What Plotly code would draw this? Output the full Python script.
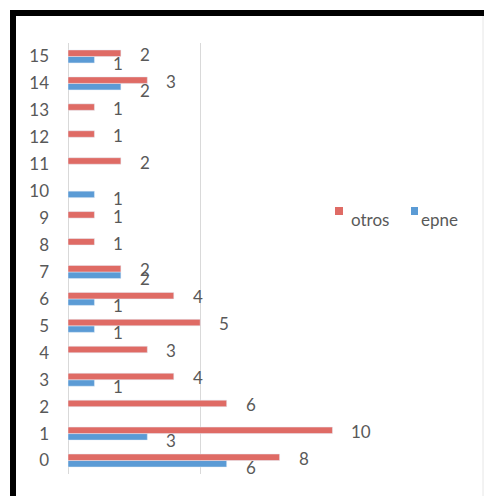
import plotly.graph_objects as go

categories = list(range(16))
cat_labels = [str(c) for c in categories]
otros = [8, 10, 6, 4, 3, 5, 4, 2, 1, 1, None, 2, 1, 1, 3, 2]
epne = [6, 3, None, 1, None, 1, 1, 2, None, None, 1, None, None, None, 2, 1]

RED = "#DF6B65"
BLUE = "#5B9BD5"
TXT = "#595959"
FONT = "Lato"
FS = 17

W, H = 484, 496
L, T = 68, 43
PW, PH = 265, 431
R = W - L - PW
B = H - T - PH

def xp(px):
    return (px - L) / PW

def yp(py):
    return (T + PH - py) / PH

fig = go.Figure()
fig.add_trace(go.Bar(y=categories, x=epne, orientation="h", name="epne",
                     marker_color=BLUE, showlegend=False))
fig.add_trace(go.Bar(y=categories, x=otros, orientation="h", name="otros",
                     marker_color=RED, showlegend=False))

ann = []
for c, v in zip(categories, otros):
    if v is not None:
        ann.append(dict(x=v, y=c, text=str(v), xref="x", yref="y", showarrow=False,
                        xanchor="left", yanchor="middle", xshift=17, yshift=2,
                        font=dict(family=FONT, size=FS, color=TXT)))
for c, v in zip(categories, epne):
    if v is not None:
        ann.append(dict(x=v, y=c, text=str(v), xref="x", yref="y", showarrow=False,
                        xanchor="left", yanchor="middle", xshift=17, yshift=-7,
                        font=dict(family=FONT, size=FS, color=TXT)))

# legend (manual)
ann.append(dict(x=xp(349), y=yp(219), xref="paper", yref="paper", text="otros",
                showarrow=False, xanchor="left", yanchor="middle",
                font=dict(family=FONT, size=FS, color=TXT)))
ann.append(dict(x=xp(419), y=yp(219), xref="paper", yref="paper", text="epne",
                showarrow=False, xanchor="left", yanchor="middle",
                font=dict(family=FONT, size=FS, color=TXT)))

shapes = [
    dict(type="rect", xref="paper", yref="paper", x0=xp(335), x1=xp(343), y0=yp(215), y1=yp(207),
         fillcolor=RED, line=dict(width=0)),
    dict(type="rect", xref="paper", yref="paper", x0=xp(411), x1=xp(418), y0=yp(215), y1=yp(207),
         fillcolor=BLUE, line=dict(width=0)),
    # black frame
    dict(type="rect", xref="paper", yref="paper", x0=xp(10), x1=xp(484), y0=yp(16), y1=yp(10),
         fillcolor="black", line=dict(width=0), layer="above"),
    dict(type="rect", xref="paper", yref="paper", x0=xp(10), x1=xp(16), y0=yp(496), y1=yp(10),
         fillcolor="black", line=dict(width=0), layer="above"),
    dict(type="line", xref="paper", yref="paper", x0=xp(483), x1=xp(483), y0=yp(496), y1=yp(16),
         line=dict(color="#E6E6E6", width=1)),
]

fig.update_layout(
    width=W, height=H,
    margin=dict(l=L, r=R, t=T, b=B, pad=0),
    paper_bgcolor="white", plot_bgcolor="white",
    barmode="group", bargap=0.517, bargroupgap=0,
    showlegend=False,
    annotations=ann, shapes=shapes,
    xaxis=dict(range=[0, 10.02], dtick=5, showticklabels=False, showgrid=True,
               gridcolor="#D9D9D9", gridwidth=1, zeroline=True, zerolinecolor="#D9D9D9",
               zerolinewidth=1, showline=False, fixedrange=True),
    yaxis=dict(range=[-0.5, 15.5], tickmode="array", tickvals=categories, ticktext=cat_labels,
               showgrid=False, zeroline=False, showline=False, ticks="",
               ticklabelstandoff=18, tickfont=dict(family=FONT, size=FS, color=TXT),
               fixedrange=True),
    font=dict(family=FONT, size=FS, color=TXT),
)

fig.write_html("out.html")
